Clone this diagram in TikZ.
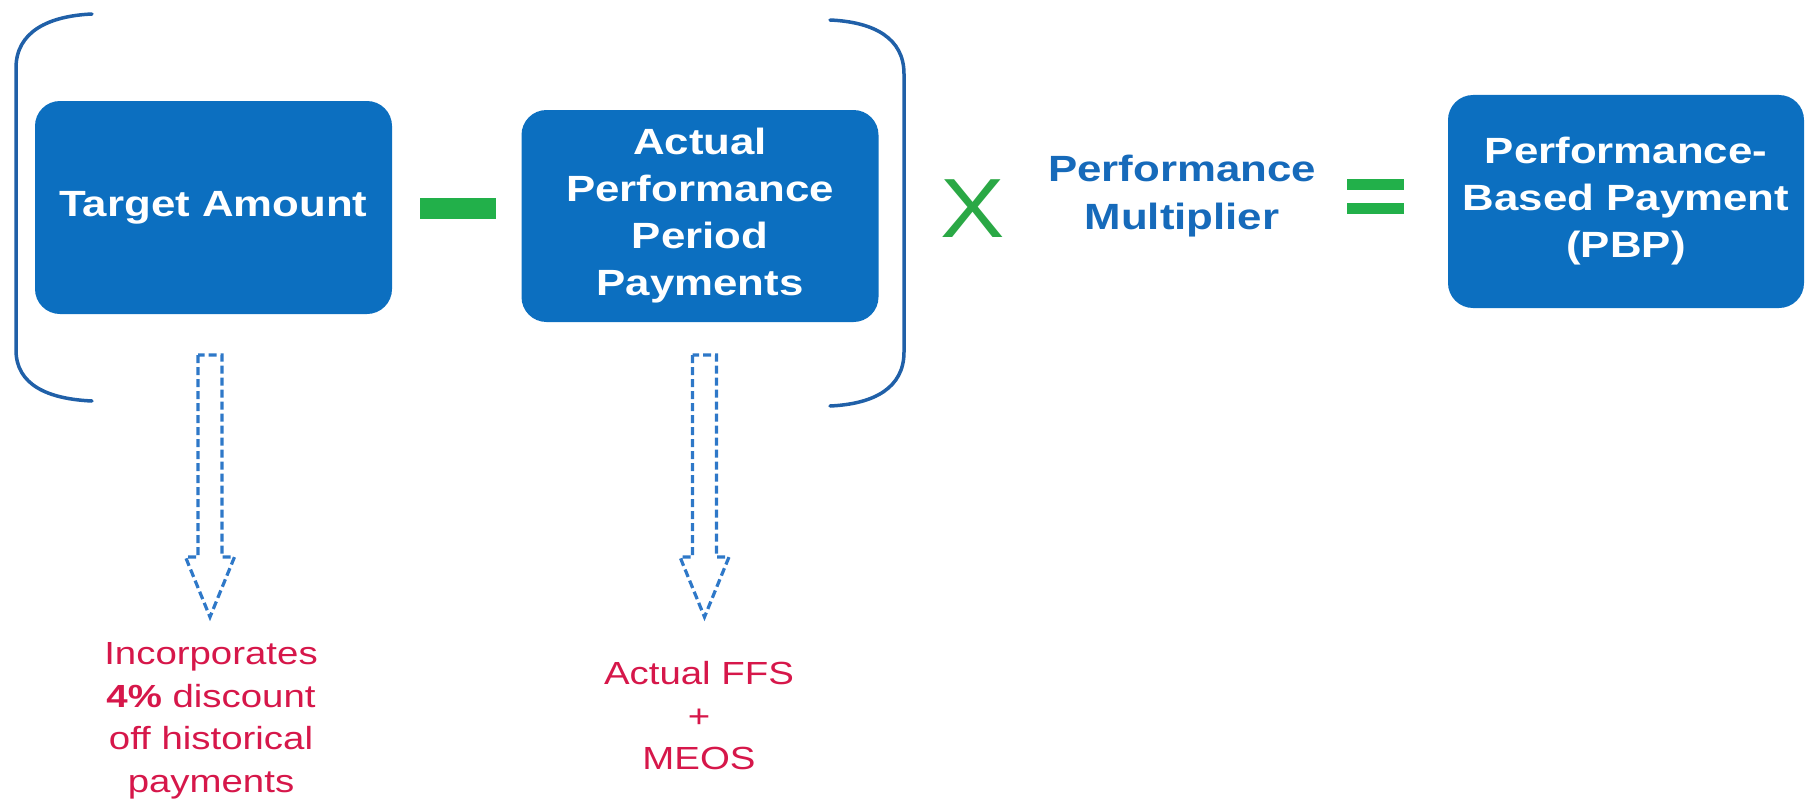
\documentclass[tikz,border=0pt]{standalone}
\usepackage{fontspec}
\setmainfont{Liberation Sans}[FakeStretch=1.2]
\newfontfamily\plainsans{Liberation Sans}[FakeStretch=1.15]
\definecolor{boxblue}{RGB}{12,111,192}
\definecolor{txtblue}{RGB}{22,106,186}
\definecolor{brkblue}{RGB}{32,96,168}
\definecolor{arrblue}{RGB}{46,120,200}
\definecolor{opgreen}{RGB}{34,176,74}
\definecolor{xgreen}{RGB}{42,168,69}
\definecolor{notered}{RGB}{214,23,74}
\begin{document}
\begin{tikzpicture}[x=1pt,y=-1pt,
  bluebox/.style={rounded corners=25pt, fill=boxblue, draw=none, text=white,
    font=\bfseries\fontsize{36.5}{47}\selectfont, align=center, inner sep=0pt},
  bracket/.style={draw=brkblue, line width=3.5pt, line cap=round},
  opbar/.style={fill=opgreen, draw=none, inner sep=0pt},
  notetext/.style={text=notered, font=\fontsize{32}{42.5}\selectfont, align=center, inner sep=0pt},
  multtext/.style={text=txtblue, font=\bfseries\fontsize{36.5}{48}\selectfont, align=center, inner sep=0pt},
  arrline/.style={draw=arrblue, line width=3.2pt, dash pattern=on 8pt off 4pt, line join=miter},
  blockarrow/.pic={
    \draw[arrline] (-12,0) -- (-12,202) -- (-24.5,202) -- (0,262) -- (24.5,202) -- (12,202) -- (12,0) -- cycle;
  }]
\useasboundingbox (0,0) rectangle (1808,800);

% brackets
\draw[bracket] (92,14) .. controls (48,16) and (16,32) .. (16,68) -- (16,350) .. controls (16,385) and (48,399) .. (92,401);
\draw[bracket] (830,20) .. controls (874,22) and (904,38) .. (904,74) -- (904,352) .. controls (904,388) and (874,404) .. (830,406);

% boxes
\node[bluebox, minimum width=357pt, minimum height=213pt] (ta) at (213.5,207.5) {Target Amount};
\node[bluebox, minimum width=357pt, minimum height=212pt] (app) at (700,216) {Actual\\Performance\\Period\\Payments};
\node[bluebox, minimum width=356pt, minimum height=213pt] (pbp) at (1626,201.5) {Performance-\\Based Payment\\(PBP)};

% operators
\node[opbar, minimum width=76pt, minimum height=21pt] (minus) at (458,208.5) {};
\node[text=xgreen, font=\plainsans\fontsize{84}{84}\selectfont, inner sep=0pt] (times) at (973,209) {X};
\node[multtext] (pm) at (1182,196) {Performance\\Multiplier};
\node[opbar, minimum width=57pt, minimum height=11pt] (eqa) at (1375.5,184.5) {};
\node[opbar, minimum width=57pt, minimum height=11pt] (eqb) at (1375.5,208.5) {};

% notes
\node[notetext] (n1) at (211,721) {Incorporates\\\textbf{4\%} discount\\off historical\\payments};
\node[notetext] (n2) at (699,716) {Actual FFS\\+\\MEOS};

% dashed block arrows
\coordinate (a1) at (210,355);
\coordinate (a2) at (704.5,355);
\pic at (a1) {blockarrow};
\pic at (a2) {blockarrow};
\end{tikzpicture}
\end{document}
